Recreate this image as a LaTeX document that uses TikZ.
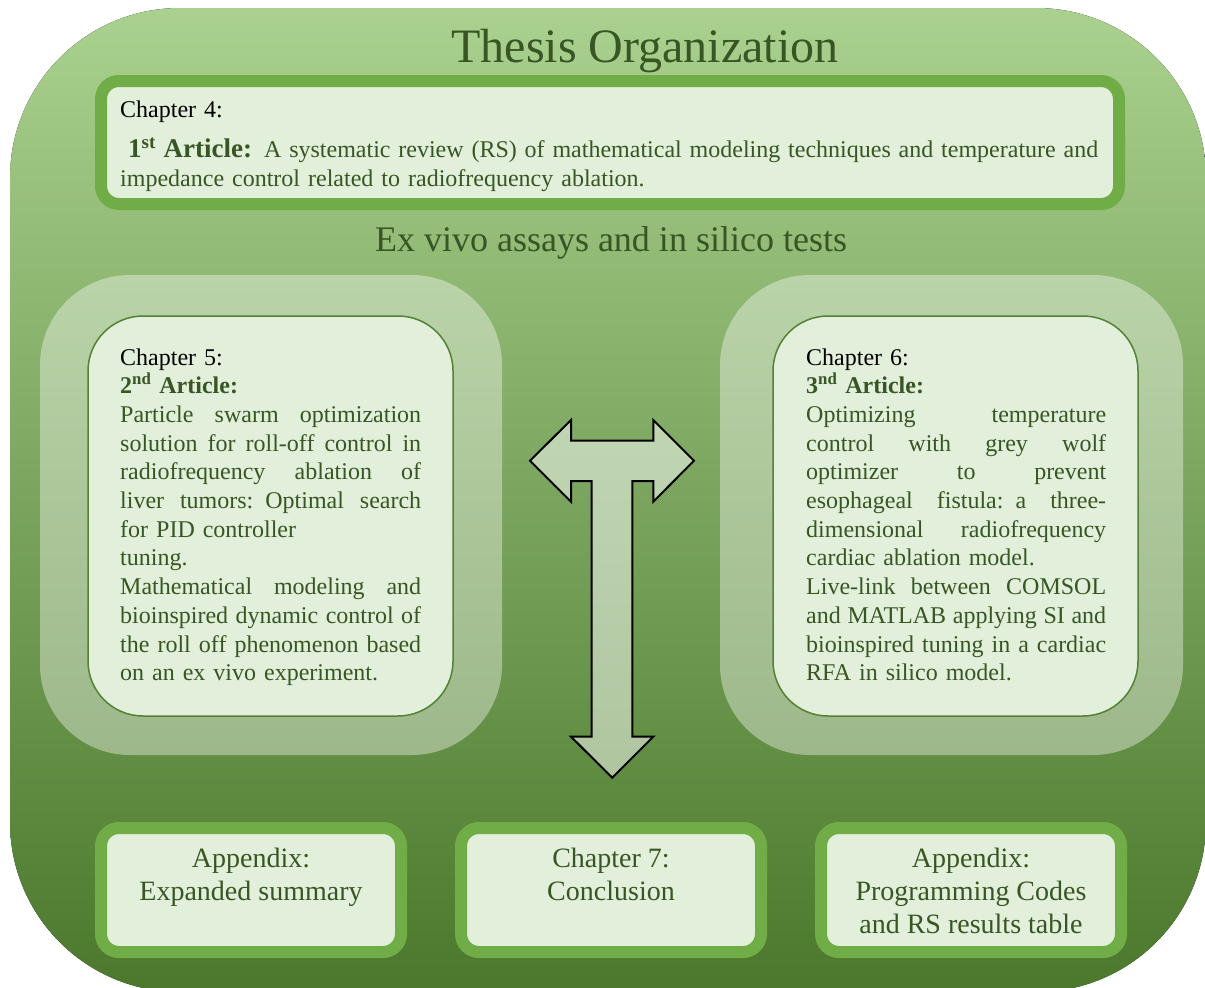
\documentclass[tikz,border=0pt]{standalone}
\usepackage{fontspec}
\setmainfont{Liberation Serif}
\usetikzlibrary{positioning}

\definecolor{bgtop}{HTML}{AAD18F}
\definecolor{bgmid}{HTML}{78AE50}
\definecolor{bgbot}{HTML}{4B782C}
\definecolor{leaf}{HTML}{70AD47}
\definecolor{pale}{HTML}{E2EFDA}
\definecolor{rim}{HTML}{548235}
\definecolor{ink}{HTML}{375623}

% one justified line, as wide as the node text
\newcommand\jline[1]{\leavevmode\hbox to \hsize{\spaceskip=0.25em plus 1fil\relax #1}}

\begin{document}
\begin{tikzpicture}[x=1pt, y=-1pt,
    frame/.style={draw=leaf, line width=12, fill=pale, rounded corners=18, inner sep=0},
    panel/.style={fill=white, fill opacity=0.38, rounded corners=90, inner sep=0},
    card/.style={draw=rim, line width=1.5, fill=pale, rounded corners=55, inner sep=0},
    body/.style={text=ink, font=\fontsize{24}{28.7}\selectfont, align=left, inner sep=0, anchor=base west},
    foot/.style={text=ink, font=\fontsize{28}{33}\selectfont, align=center, inner sep=0, anchor=base}]

    \useasboundingbox (0,0) rectangle (1205,988);

    % backdrop
    \fill[top color=bgtop, middle color=bgmid, bottom color=bgbot, rounded corners=170] (10,8) rectangle (1206,992);

    \node[text=ink, font=\fontsize{48}{56}\selectfont, anchor=base] (title) at (645,62) {Thesis Organization};

    % chapter 4
    \node[frame, minimum width=1018, minimum height=123] (ch4box) at (610,142.5) {};
    \node[body, text width=978] (ch4) at (120,117) {\textcolor{black}{Chapter 4:}\\[12pt]
        \jline{\hspace{8pt}{\fontsize{27}{30}\selectfont\bfseries 1\textsuperscript{st} Article:} A systematic review (RS) of mathematical modeling techniques and temperature and}\\
        impedance control related to radiofrequency ablation.};

    \node[text=ink, font=\fontsize{36}{42}\selectfont, anchor=base] (tests) at (611,251) {Ex vivo assays and in silico tests};

    % side panels
    \node[panel, minimum width=462, minimum height=480] (leftpanel) at (271,515) {};
    \node[panel, minimum width=463, minimum height=480] (rightpanel) at (951.5,515) {};
    \node[card, minimum width=365, minimum height=400] (ch5box) at (270.5,516) {};
    \node[card, minimum width=365, minimum height=400] (ch6box) at (955.5,516) {};

    \node[body, text width=301] (ch5) at (120,365) {\textcolor{black}{Chapter 5:}\\
        {\bfseries 2\textsuperscript{nd} Article:}\\
        \jline{Particle swarm optimization}\\
        \jline{solution for roll-off control in}\\
        \jline{radiofrequency ablation of}\\
        \jline{liver tumors: Optimal search}\\
        for PID controller\\
        tuning.\\
        \jline{Mathematical modeling and}\\
        \jline{bioinspired dynamic control of}\\
        \jline{the roll off phenomenon based}\\
        on an ex vivo experiment.};

    \node[body, text width=300] (ch6) at (806,365) {\textcolor{black}{Chapter 6:}\\
        {\bfseries 3\textsuperscript{nd} Article:}\\
        \jline{Optimizing temperature}\\
        \jline{control with grey wolf}\\
        \jline{optimizer to prevent}\\
        \jline{esophageal fistula: a three-}\\
        \jline{dimensional radiofrequency}\\
        cardiac ablation model.\\
        \jline{Live-link between COMSOL}\\
        \jline{and MATLAB applying SI and}\\
        \jline{bioinspired tuning in a cardiac}\\
        RFA in silico model.};

    % T-shaped arrow
    \draw[line width=2, fill=white, fill opacity=0.5, line join=miter] (530,460.7) -- (571,420) -- (571,440.7) -- (653.3,440.7) -- (653.3,420) -- (694,460.7) -- (653.3,501.7) -- (653.3,481) -- (632.3,481) -- (632.3,736.7) -- (653.3,736.7) -- (612.3,777.7) -- (571,736.7) -- (591.7,736.7) -- (591.7,481) -- (571,481) -- (571,501.7) -- cycle;

    % closing chapters (base is the last line)
    \node[frame, minimum width=300, minimum height=124] (sumbox) at (251,890) {};
    \node[frame, minimum width=300, minimum height=124] (ch7box) at (611,890) {};
    \node[frame, minimum width=300, minimum height=124] (codebox) at (971,890) {};
    \node[foot] (summary) at (251,900) {Appendix:\\Expanded summary};
    \node[foot] (ch7) at (611,900) {Chapter 7:\\Conclusion};
    \node[foot] (codes) at (971,933) {Appendix:\\Programming Codes\\and RS results table};
\end{tikzpicture}
\end{document}
